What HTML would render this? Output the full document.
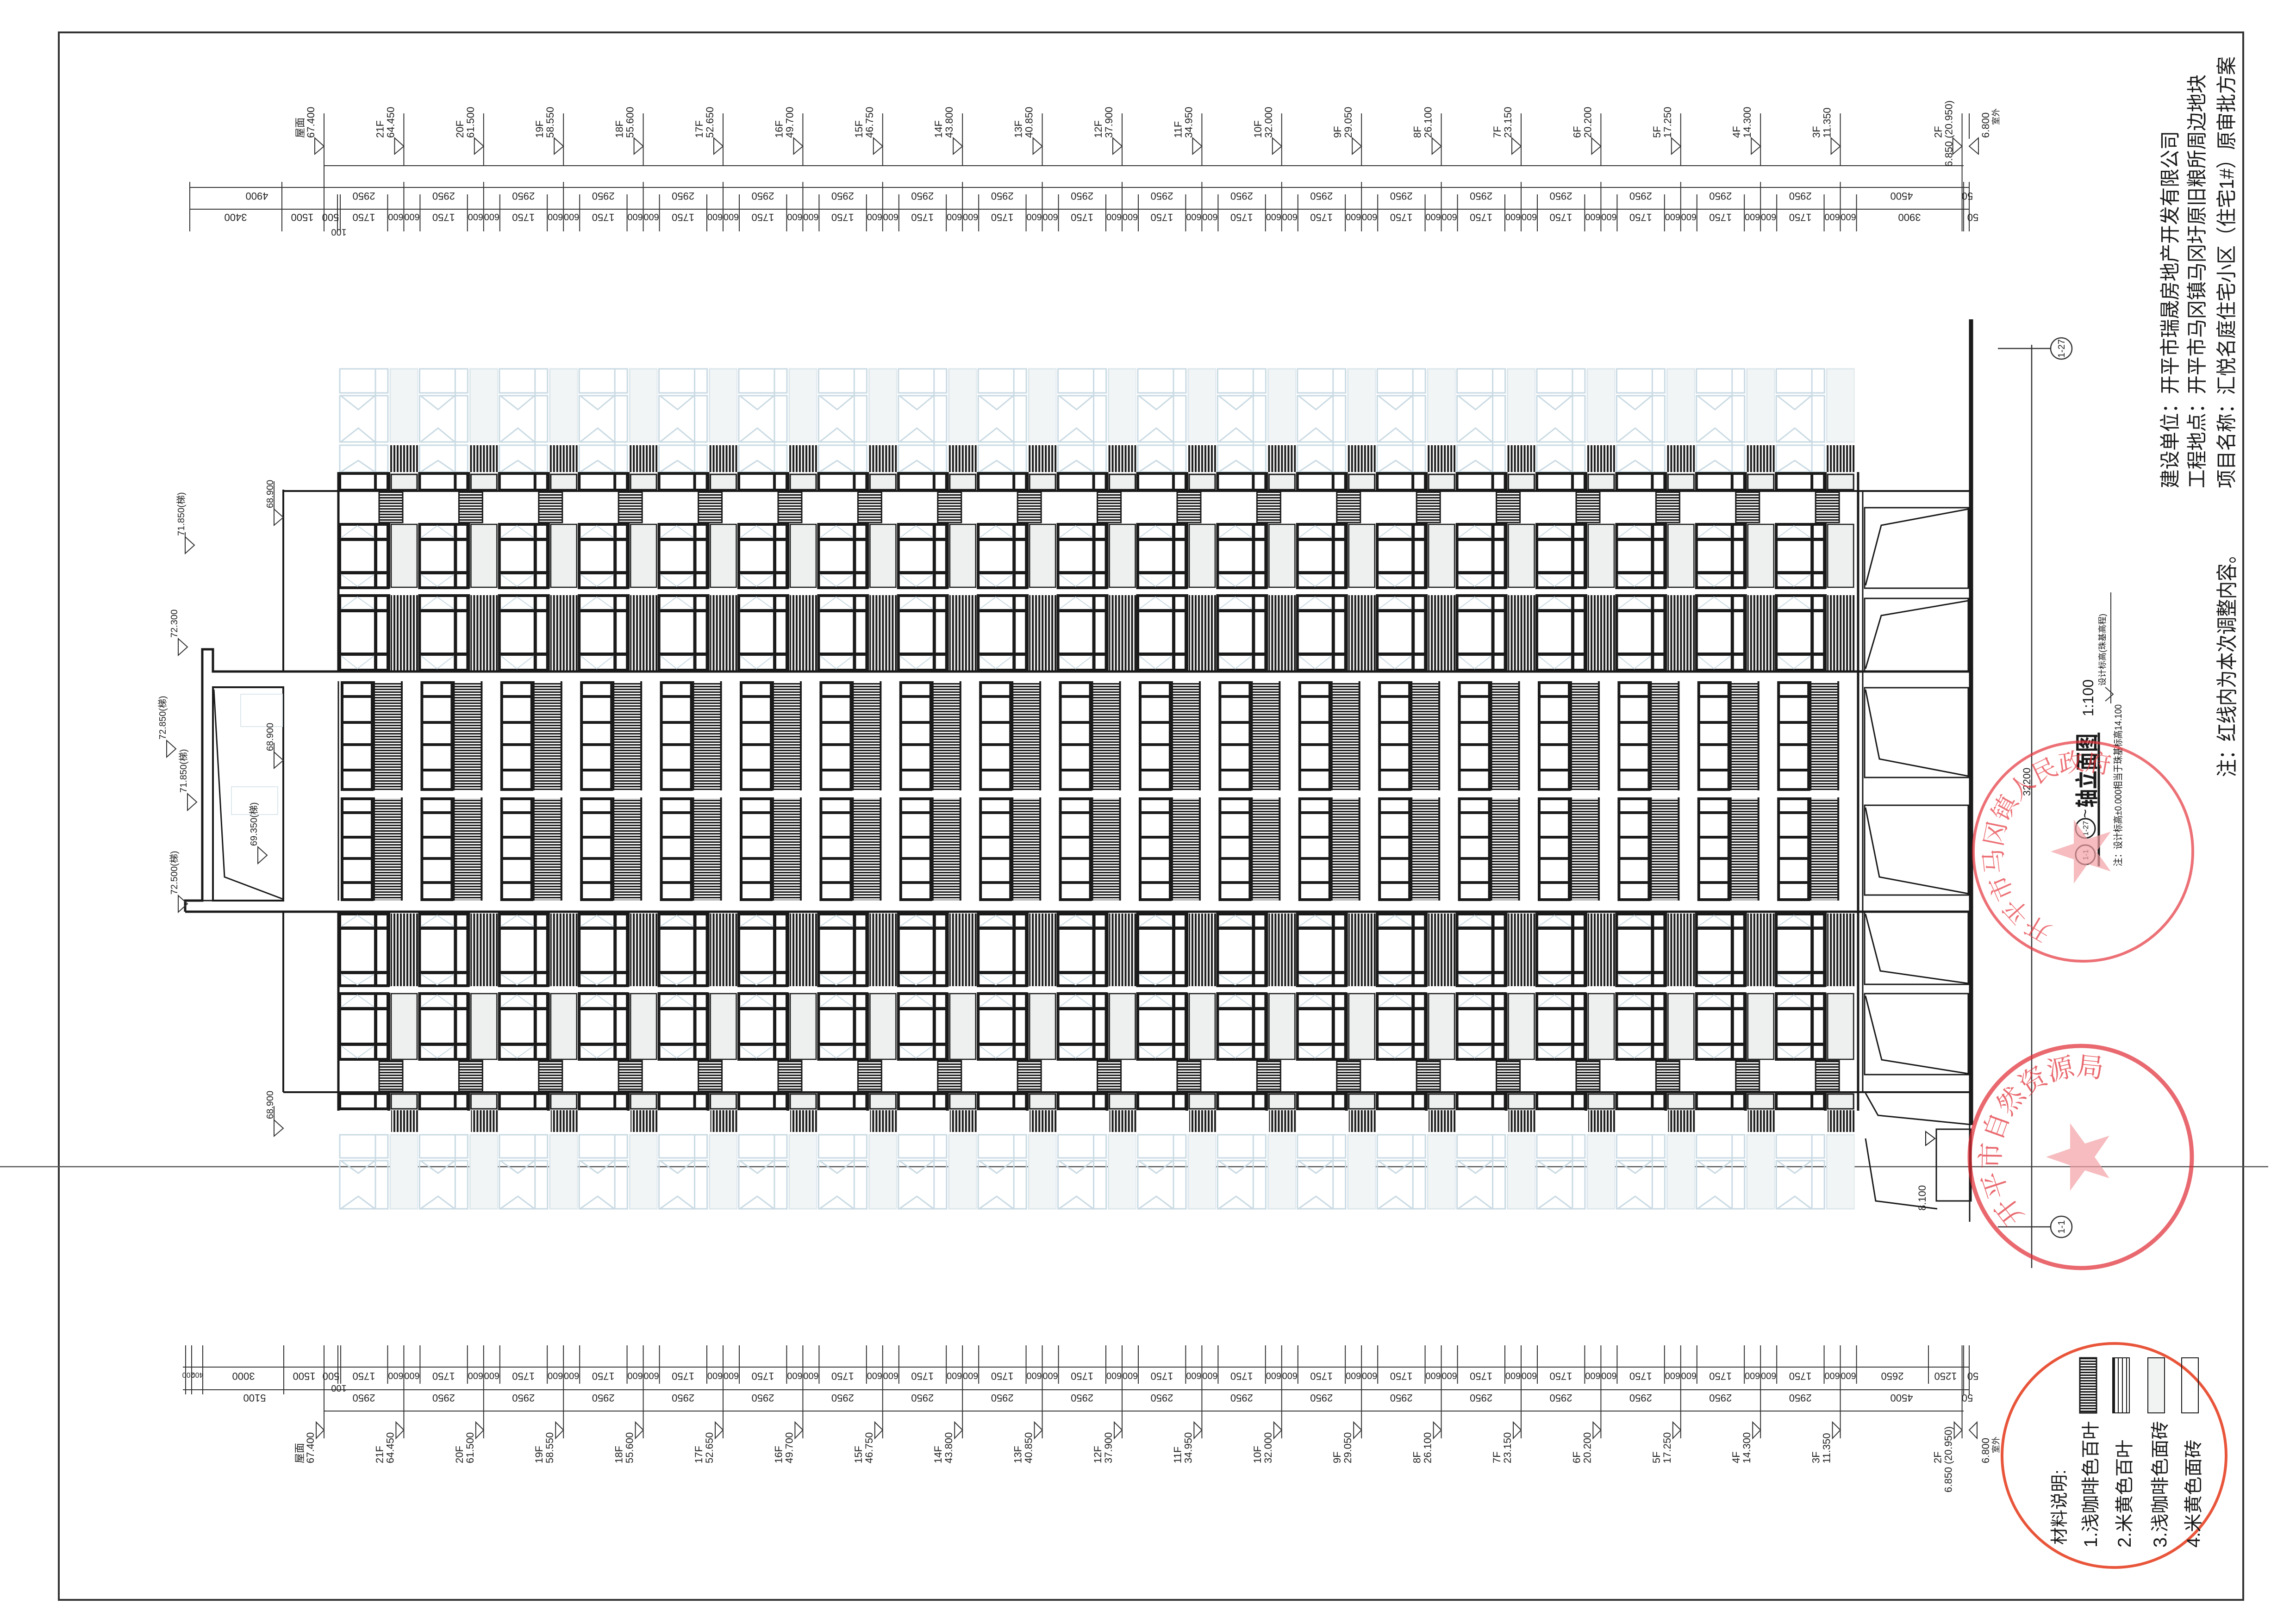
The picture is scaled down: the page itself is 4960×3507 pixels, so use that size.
<!DOCTYPE html>
<html><head><meta charset="utf-8">
<style>
html,body{margin:0;padding:0;background:#fff;}
svg{display:block;}
.t{font-family:"Liberation Sans","Noto Sans CJK SC",sans-serif;fill:#222;}
.c{font-family:"Liberation Sans","Noto Sans CJK SC",sans-serif;fill:#1a1a1a;}
</style></head>
<body>
<svg width="4960" height="3507" viewBox="0 0 4960 3507" xmlns="http://www.w3.org/2000/svg">
<defs>
<pattern id="vs" x="0" y="0" width="7" height="10" patternUnits="userSpaceOnUse"><rect x="0" y="0" width="4" height="10" fill="#1a1a1a"/></pattern>
<pattern id="hs" x="0" y="0" width="10" height="6" patternUnits="userSpaceOnUse"><rect x="0" y="0" width="10" height="3.2" fill="#1a1a1a"/></pattern>
<pattern id="bay" x="731" y="0" width="172.4" height="3507" patternUnits="userSpaceOnUse">
 <g stroke="#c9dae3" stroke-width="3" fill="none">
  <rect x="112" y="797" width="60" height="158" fill="#f2f5f6" stroke="#dde7ec"/>
  <rect x="3" y="797" width="104" height="52"/><rect x="3" y="855" width="104" height="100"/>
  <line x1="80" y1="797" x2="80" y2="1020"/>
  <rect x="3" y="962" width="104" height="58"/>
  <path d="M5 955 L43 925 L79 955 M5 855 L43 885 L79 855 M5 1020 L43 995 L79 1020"/>
 </g>
 <g stroke="#c9dae3" stroke-width="3" fill="none">
  <rect x="112" y="2452" width="60" height="160" fill="#f2f5f6" stroke="#dde7ec"/>
  <rect x="3" y="2452" width="104" height="50"/><rect x="3" y="2508" width="104" height="104"/>
  <line x1="80" y1="2452" x2="80" y2="2612"/>
  <path d="M5 2508 L43 2535 L79 2508 M5 2612 L43 2585 L79 2612"/>
 </g>
 <rect x="112" y="962" width="60" height="58" fill="url(#vs)"/>
 <rect x="3" y="1023" width="104" height="36" fill="none" stroke="#1a1a1a" stroke-width="6"/>
 <rect x="77" y="1023" width="6" height="36" fill="#1a1a1a"/>
 <rect x="114" y="1025" width="56" height="33" fill="#eef0f0" stroke="#1a1a1a" stroke-width="3"/>
 <rect x="106" y="1020" width="6" height="42" fill="#1a1a1a"/>
 <rect x="88" y="1063" width="51" height="66" fill="url(#hs)" stroke="#1a1a1a" stroke-width="3"/>
 <rect x="3" y="1133" width="104" height="137" fill="none" stroke="#1a1a1a" stroke-width="6"/>
 <rect x="77" y="1133" width="7" height="137" fill="#1a1a1a"/>
 <rect x="3" y="1162" width="104" height="7" fill="#1a1a1a"/>
 <rect x="3" y="1234" width="104" height="7" fill="#1a1a1a"/>
 <path d="M6 1162 L41 1136 L77 1162 M6 1241 L41 1267 L77 1241" stroke="#c9dae3" stroke-width="2" fill="none"/>
 <rect x="106" y="1130" width="6" height="142" fill="#1a1a1a"/>
 <rect x="114" y="1133" width="56" height="136" fill="#eef0f0" stroke="#1a1a1a" stroke-width="2.5"/>
 <rect x="3" y="1287" width="104" height="161" fill="none" stroke="#1a1a1a" stroke-width="6"/>
 <rect x="77" y="1287" width="7" height="161" fill="#1a1a1a"/>
 <rect x="3" y="1316" width="104" height="7" fill="#1a1a1a"/>
 <rect x="3" y="1410" width="104" height="7" fill="#1a1a1a"/>
 <path d="M6 1316 L41 1290 L77 1316 M6 1417 L41 1445 L77 1417" stroke="#c9dae3" stroke-width="2" fill="none"/>
 <rect x="106" y="1284" width="6" height="166" fill="#1a1a1a"/>
 <rect x="113" y="1286" width="59" height="163" fill="url(#vs)"/>
 <rect x="8" y="1475" width="65" height="231" fill="none" stroke="#1a1a1a" stroke-width="6"/>
 <rect x="8" y="1502" width="65" height="6" fill="#1a1a1a"/><rect x="8" y="1558" width="65" height="6" fill="#1a1a1a"/>
 <rect x="8" y="1606" width="65" height="6" fill="#1a1a1a"/><rect x="8" y="1661" width="65" height="6" fill="#1a1a1a"/>
 <rect x="78" y="1474" width="58" height="233" fill="url(#hs)"/>
 <rect x="75" y="1472" width="4" height="236" fill="#1a1a1a"/><rect x="135" y="1472" width="4" height="236" fill="#1a1a1a"/>
 <rect x="8" y="1726" width="65" height="218" fill="none" stroke="#1a1a1a" stroke-width="6"/>
 <rect x="8" y="1753" width="65" height="6" fill="#1a1a1a"/><rect x="8" y="1806" width="65" height="6" fill="#1a1a1a"/>
 <rect x="8" y="1852" width="65" height="6" fill="#1a1a1a"/><rect x="8" y="1904" width="65" height="6" fill="#1a1a1a"/>
 <rect x="78" y="1725" width="58" height="220" fill="url(#hs)"/>
 <rect x="75" y="1723" width="4" height="223" fill="#1a1a1a"/><rect x="135" y="1723" width="4" height="223" fill="#1a1a1a"/>
 <rect x="3" y="1975" width="104" height="155" fill="none" stroke="#1a1a1a" stroke-width="6"/>
 <rect x="77" y="1975" width="7" height="155" fill="#1a1a1a"/>
 <rect x="3" y="2002" width="104" height="7" fill="#1a1a1a"/>
 <rect x="3" y="2098" width="104" height="7" fill="#1a1a1a"/>
 <path d="M6 2002 L41 1978 L77 2002 M6 2105 L41 2128 L77 2105" stroke="#c9dae3" stroke-width="2" fill="none"/>
 <rect x="106" y="1972" width="6" height="160" fill="#1a1a1a"/>
 <rect x="113" y="1974" width="59" height="157" fill="url(#vs)"/>
 <rect x="3" y="2147" width="104" height="142" fill="none" stroke="#1a1a1a" stroke-width="6"/>
 <rect x="77" y="2147" width="7" height="142" fill="#1a1a1a"/>
 <rect x="3" y="2176" width="104" height="7" fill="#1a1a1a"/>
 <rect x="3" y="2253" width="104" height="7" fill="#1a1a1a"/>
 <path d="M6 2176 L41 2150 L77 2176 M6 2260 L41 2286 L77 2260" stroke="#c9dae3" stroke-width="2" fill="none"/>
 <rect x="106" y="2145" width="6" height="146" fill="#1a1a1a"/>
 <rect x="114" y="2147" width="56" height="142" fill="#eef0f0" stroke="#1a1a1a" stroke-width="2.5"/>
 <rect x="88" y="2292" width="51" height="66" fill="url(#hs)" stroke="#1a1a1a" stroke-width="3"/>
 <rect x="3" y="2363" width="104" height="33" fill="none" stroke="#1a1a1a" stroke-width="6"/>
 <rect x="77" y="2363" width="6" height="33" fill="#1a1a1a"/>
 <rect x="114" y="2364" width="56" height="32" fill="#eef0f0" stroke="#1a1a1a" stroke-width="3"/>
 <rect x="106" y="2360" width="6" height="40" fill="#1a1a1a"/>
 <rect x="114" y="2399" width="58" height="47" fill="url(#vs)"/>
</pattern>
</defs>

<rect width="4960" height="3507" fill="#fff"/>
<rect x="127" y="70" width="4719" height="3387" fill="none" stroke="#333" stroke-width="4"/>
<line x1="0" y1="2521" x2="4900" y2="2521" stroke="#555" stroke-width="2.5"/>

<rect x="731" y="780" width="3275.6" height="1850" fill="url(#bay)"/>
<g stroke="#1a1a1a" fill="none">
 <line x1="612" y1="1061" x2="4260" y2="1061" stroke-width="4"/>
 <line x1="460" y1="1451" x2="4260" y2="1451" stroke-width="5"/>
 <line x1="400" y1="1970" x2="4260" y2="1970" stroke-width="5"/>
 <line x1="612" y1="2360" x2="4260" y2="2360" stroke-width="4"/>
 <line x1="612" y1="1058" x2="612" y2="1451" stroke-width="4"/>
 <line x1="612" y1="1970" x2="612" y2="2360" stroke-width="4"/>
 <line x1="731" y1="1020" x2="731" y2="1451" stroke-width="5"/>
 <line x1="731" y1="1970" x2="731" y2="2400" stroke-width="5"/>
 <line x1="731" y1="1472" x2="731" y2="1946" stroke-width="3"/>
 <path d="M612 1451 H460 V1403 H437 V1946 H400 V1970" stroke-width="5"/>
 <rect x="460" y="1485" width="152" height="461" stroke-width="4"/>
 <path d="M462 1490 L485 1895 L612 1943" stroke-width="3"/>
 <line x1="437" y1="1946" x2="612" y2="1946" stroke-width="3"/>
</g>
<g stroke="#dde7ec" stroke-width="2" fill="none">
 <rect x="520" y="1500" width="90" height="70"/><rect x="500" y="1700" width="100" height="60"/>
</g>

<g stroke="#1a1a1a" fill="none" stroke-width="3">
 <line x1="4014" y1="1020" x2="4014" y2="2400" stroke-width="5"/>
 <line x1="4024" y1="1061" x2="4024" y2="2360" stroke-width="3"/>
 <line x1="4258" y1="690" x2="4258" y2="2431" stroke-width="9"/>
 <rect x="4028" y="1097" width="224" height="174"/>
 <rect x="4028" y="1293" width="224" height="158"/>
 <rect x="4028" y="1486" width="224" height="194"/>
 <rect x="4028" y="1740" width="224" height="194"/>
 <rect x="4028" y="1970" width="224" height="157"/>
 <rect x="4028" y="2147" width="224" height="175"/>
 <path d="M4030 1265 L4064 1135 L4252 1100"/>
 <path d="M4030 1445 L4064 1330 L4252 1298"/>
 <path d="M4030 1490 L4060 1640 L4252 1677"/>
 <path d="M4030 1745 L4060 1895 L4252 1931"/>
 <path d="M4030 1975 L4062 2098 L4252 2125"/>
 <path d="M4030 2152 L4065 2290 L4252 2320"/>
 <path d="M4030 2362 L4057 2410 L4258 2430"/>
 <rect x="4183" y="2440" width="75" height="155"/>
 <path d="M4030 2460 L4052 2595 L4185 2612"/>
 <path d="M4160 2445 L4180 2460 L4160 2475 Z" stroke-width="2"/>
 <line x1="4255" y1="2430" x2="4255" y2="2640" stroke-width="3"/>
</g>
<text class="t" font-size="22" transform="translate(4160,2616) rotate(-90)">8.100</text>

<g stroke="#333" fill="none" stroke-width="2.5">
 <line x1="4389" y1="745" x2="4389" y2="2740"/>
 <line x1="4316" y1="753" x2="4430" y2="753"/>
 <line x1="4316" y1="2651" x2="4430" y2="2651"/>
 <circle cx="4453" cy="753" r="23" fill="#fff"/>
 <circle cx="4453" cy="2651" r="23" fill="#fff"/>
</g>
<text class="t" font-size="20" text-anchor="middle" transform="translate(4460,753) rotate(-90)">1-27</text>
<text class="t" font-size="20" text-anchor="middle" transform="translate(4460,2651) rotate(-90)">1-1</text>
<text class="t" font-size="22" transform="translate(4386,1720) rotate(-90)">32200</text>

<g stroke="#333" fill="none" stroke-width="2">
 <path d="M592 1100 L612 1118 L592 1135 Z M592 1100 V1040"/>
 <path d="M592 1625 L612 1643 L592 1660 Z M592 1625 V1605"/>
 <path d="M592 2420 L612 2438 L592 2455 Z M592 2420 V2390"/>
 <path d="M400 1160 L420 1178 L400 1196 Z M400 1160 V1150"/>
 <path d="M385 1380 L405 1398 L385 1416 Z"/>
 <path d="M360 1600 L380 1618 L360 1636 Z"/>
 <path d="M405 1715 L425 1733 L405 1751 Z"/>
 <path d="M385 1935 L405 1953 L385 1971 Z"/>
 <path d="M557 1830 L577 1848 L557 1866 Z"/>
</g>
<g class="t" font-size="20">
 <text transform="translate(590,1098) rotate(-90)">68.900</text>
 <text transform="translate(590,1623) rotate(-90)">68.900</text>
 <text transform="translate(590,2418) rotate(-90)">68.900</text>
 <text transform="translate(398,1158) rotate(-90)">71.850(梯)</text>
 <text transform="translate(383,1378) rotate(-90)">72.300</text>
 <text transform="translate(358,1598) rotate(-90)">72.850(梯)</text>
 <text transform="translate(403,1713) rotate(-90)">71.850(梯)</text>
 <text transform="translate(383,1933) rotate(-90)">72.500(梯)</text>
 <text transform="translate(555,1828) rotate(-90)">69.350(梯)</text>
</g>

<g stroke="#333" stroke-width="2" fill="none">
 <path d="M410 393V500 M609 393V500 M729 420V500 M735 420V500 M837.4 420V500 M907.4 420V500 M1009.8 420V500 M1079.8 420V500 M1182.2 420V500 M1252.2 420V500 M1354.6 420V500 M1424.6 420V500 M1527 420V500 M1597 420V500 M1699.4 420V500 M1769.4 420V500 M1871.8 420V500 M1941.8 420V500 M2044.2 420V500 M2114.2 420V500 M2216.6 420V500 M2286.6 420V500 M2389 420V500 M2459 420V500 M2561.4 420V500 M2631.4 420V500 M2733.8 420V500 M2803.8 420V500 M2906.2 420V500 M2976.2 420V500 M3078.6 420V500 M3148.6 420V500 M3251 420V500 M3321 420V500 M3423.4 420V500 M3493.4 420V500 M3595.8 420V500 M3665.8 420V500 M3768.2 420V500 M3838.2 420V500 M3940.6 420V500 M4010.6 420V500 M4242 393V500 M4254 393V500"/>
 <path d="M700 245V500 M872.4 245V358 M1044.8 245V358 M1217.2 245V358 M1389.6 245V358 M1562 245V358 M1734.4 245V358 M1906.8 245V358 M2079.2 245V358 M2251.6 245V358 M2424 245V358 M2596.4 245V358 M2768.8 245V358 M2941.2 245V358 M3113.6 245V358 M3286 245V358 M3458.4 245V358 M3630.8 245V358 M3803.2 245V358 M3975.6 245V358 M4238.6 245V500 M4254 245V300"/>
 <path d="M872.4 393V500 M1044.8 393V500 M1217.2 393V500 M1389.6 393V500 M1562 393V500 M1734.4 393V500 M1906.8 393V500 M2079.2 393V500 M2251.6 393V500 M2424 393V500 M2596.4 393V500 M2768.8 393V500 M2941.2 393V500 M3113.6 393V500 M3286 393V500 M3458.4 393V500 M3630.8 393V500 M3803.2 393V500 M3975.6 393V500"/>
 <path d="M700 358H4242 M410 405H4254 M410 452H4254"/>
 <path d="M680 298L700 316L680 333Z M852.4 298L872.4 316L852.4 333Z M1024.8 298L1044.8 316L1024.8 333Z M1197.2 298L1217.2 316L1197.2 333Z M1369.6 298L1389.6 316L1369.6 333Z M1542 298L1562 316L1542 333Z M1714.4 298L1734.4 316L1714.4 333Z M1886.8 298L1906.8 316L1886.8 333Z M2059.2 298L2079.2 316L2059.2 333Z M2231.6 298L2251.6 316L2231.6 333Z M2404 298L2424 316L2404 333Z M2576.4 298L2596.4 316L2576.4 333Z M2748.8 298L2768.8 316L2748.8 333Z M2921.2 298L2941.2 316L2921.2 333Z M3093.6 298L3113.6 316L3093.6 333Z M3266 298L3286 316L3266 333Z M3438.4 298L3458.4 316L3438.4 333Z M3610.8 298L3630.8 316L3610.8 333Z M3783.2 298L3803.2 316L3783.2 333Z M3955.6 298L3975.6 316L3955.6 333Z M4218.6 298L4238.6 316L4218.6 333Z M4274 298L4254 316L4274 333Z"/>
</g>
<g class="t" font-size="22" text-anchor="middle" transform="rotate(180)">
 <text y="-416"><tspan x="-555">4900</tspan><tspan x="-786">2950</tspan><tspan x="-958.4">2950</tspan><tspan x="-1130.8">2950</tspan><tspan x="-1303.2">2950</tspan><tspan x="-1475.6">2950</tspan><tspan x="-1648">2950</tspan><tspan x="-1820.4">2950</tspan><tspan x="-1992.8">2950</tspan><tspan x="-2165.2">2950</tspan><tspan x="-2337.6">2950</tspan><tspan x="-2510">2950</tspan><tspan x="-2682.4">2950</tspan><tspan x="-2854.8">2950</tspan><tspan x="-3027.2">2950</tspan><tspan x="-3199.6">2950</tspan><tspan x="-3372">2950</tspan><tspan x="-3544.4">2950</tspan><tspan x="-3716.8">2950</tspan><tspan x="-3889.2">2950</tspan><tspan x="-4108">4500</tspan><tspan x="-4250">50</tspan></text>
 <text y="-462"><tspan x="-509">3400</tspan><tspan x="-653">1500</tspan><tspan x="-714">500</tspan><tspan x="-786">1750</tspan><tspan x="-958.4">1750</tspan><tspan x="-1130.8">1750</tspan><tspan x="-1303.2">1750</tspan><tspan x="-1475.6">1750</tspan><tspan x="-1648">1750</tspan><tspan x="-1820.4">1750</tspan><tspan x="-1992.8">1750</tspan><tspan x="-2165.2">1750</tspan><tspan x="-2337.6">1750</tspan><tspan x="-2510">1750</tspan><tspan x="-2682.4">1750</tspan><tspan x="-2854.8">1750</tspan><tspan x="-3027.2">1750</tspan><tspan x="-3199.6">1750</tspan><tspan x="-3372">1750</tspan><tspan x="-3544.4">1750</tspan><tspan x="-3716.8">1750</tspan><tspan x="-3889.2">1750</tspan><tspan x="-4125">3900</tspan><tspan x="-4262">50</tspan></text>
 <text y="-462" font-size="20"><tspan x="-854.9">600</tspan><tspan x="-889.9">600</tspan><tspan x="-1027.3">600</tspan><tspan x="-1062.3">600</tspan><tspan x="-1199.7">600</tspan><tspan x="-1234.7">600</tspan><tspan x="-1372.1">600</tspan><tspan x="-1407.1">600</tspan><tspan x="-1544.5">600</tspan><tspan x="-1579.5">600</tspan><tspan x="-1716.9">600</tspan><tspan x="-1751.9">600</tspan><tspan x="-1889.3">600</tspan><tspan x="-1924.3">600</tspan><tspan x="-2061.7">600</tspan><tspan x="-2096.7">600</tspan><tspan x="-2234.1">600</tspan><tspan x="-2269.1">600</tspan><tspan x="-2406.5">600</tspan><tspan x="-2441.5">600</tspan><tspan x="-2578.9">600</tspan><tspan x="-2613.9">600</tspan><tspan x="-2751.3">600</tspan><tspan x="-2786.3">600</tspan><tspan x="-2923.7">600</tspan><tspan x="-2958.7">600</tspan><tspan x="-3096.1">600</tspan><tspan x="-3131.1">600</tspan><tspan x="-3268.5">600</tspan><tspan x="-3303.5">600</tspan><tspan x="-3440.9">600</tspan><tspan x="-3475.9">600</tspan><tspan x="-3613.3">600</tspan><tspan x="-3648.3">600</tspan><tspan x="-3785.7">600</tspan><tspan x="-3820.7">600</tspan><tspan x="-3958.1">600</tspan><tspan x="-3993.1">600</tspan></text>
 <text y="-495" x="-732" font-size="20">100</text>
</g>
<g class="t" font-size="22">
 <text transform="translate(679,298) rotate(-90)">67.400</text><text transform="translate(656,298) rotate(-90)">屋面</text>
 <text transform="translate(851.4,298) rotate(-90)">64.450</text><text transform="translate(828.4,298) rotate(-90)">21F</text>
 <text transform="translate(1023.8,298) rotate(-90)">61.500</text><text transform="translate(1000.8,298) rotate(-90)">20F</text>
 <text transform="translate(1196.2,298) rotate(-90)">58.550</text><text transform="translate(1173.2,298) rotate(-90)">19F</text>
 <text transform="translate(1368.6,298) rotate(-90)">55.600</text><text transform="translate(1345.6,298) rotate(-90)">18F</text>
 <text transform="translate(1541,298) rotate(-90)">52.650</text><text transform="translate(1518,298) rotate(-90)">17F</text>
 <text transform="translate(1713.4,298) rotate(-90)">49.700</text><text transform="translate(1690.4,298) rotate(-90)">16F</text>
 <text transform="translate(1885.8,298) rotate(-90)">46.750</text><text transform="translate(1862.8,298) rotate(-90)">15F</text>
 <text transform="translate(2058.2,298) rotate(-90)">43.800</text><text transform="translate(2035.2,298) rotate(-90)">14F</text>
 <text transform="translate(2230.6,298) rotate(-90)">40.850</text><text transform="translate(2207.6,298) rotate(-90)">13F</text>
 <text transform="translate(2403,298) rotate(-90)">37.900</text><text transform="translate(2380,298) rotate(-90)">12F</text>
 <text transform="translate(2575.4,298) rotate(-90)">34.950</text><text transform="translate(2552.4,298) rotate(-90)">11F</text>
 <text transform="translate(2747.8,298) rotate(-90)">32.000</text><text transform="translate(2724.8,298) rotate(-90)">10F</text>
 <text transform="translate(2920.2,298) rotate(-90)">29.050</text><text transform="translate(2897.2,298) rotate(-90)">9F</text>
 <text transform="translate(3092.6,298) rotate(-90)">26.100</text><text transform="translate(3069.6,298) rotate(-90)">8F</text>
 <text transform="translate(3265,298) rotate(-90)">23.150</text><text transform="translate(3242,298) rotate(-90)">7F</text>
 <text transform="translate(3437.4,298) rotate(-90)">20.200</text><text transform="translate(3414.4,298) rotate(-90)">6F</text>
 <text transform="translate(3609.8,298) rotate(-90)">17.250</text><text transform="translate(3586.8,298) rotate(-90)">5F</text>
 <text transform="translate(3782.2,298) rotate(-90)">14.300</text><text transform="translate(3759.2,298) rotate(-90)">4F</text>
 <text transform="translate(3954.6,298) rotate(-90)">11.350</text><text transform="translate(3931.6,298) rotate(-90)">3F</text>
 <text transform="translate(4217.6,360) rotate(-90)">6.850 (20.950)</text><text transform="translate(4194.6,298) rotate(-90)">2F</text>
 <text transform="translate(4297,298) rotate(-90)">6.800</text><text transform="translate(4318,270) rotate(-90)" font-size="18">室外</text>
</g>

<g stroke="#333" stroke-width="2" fill="none">
 <path d="M401 2907V3013 M414 2907V3013 M438 2907V3013 M613 2907V3013 M730 2907V2990 M736 2907V2990 M837.4 2907V2990 M907.4 2907V2990 M1009.8 2907V2990 M1079.8 2907V2990 M1182.2 2907V2990 M1252.2 2907V2990 M1354.6 2907V2990 M1424.6 2907V2990 M1527 2907V2990 M1597 2907V2990 M1699.4 2907V2990 M1769.4 2907V2990 M1871.8 2907V2990 M1941.8 2907V2990 M2044.2 2907V2990 M2114.2 2907V2990 M2216.6 2907V2990 M2286.6 2907V2990 M2389 2907V2990 M2459 2907V2990 M2561.4 2907V2990 M2631.4 2907V2990 M2733.8 2907V2990 M2803.8 2907V2990 M2906.2 2907V2990 M2976.2 2907V2990 M3078.6 2907V2990 M3148.6 2907V2990 M3251 2907V2990 M3321 2907V2990 M3423.4 2907V2990 M3493.4 2907V2990 M3595.8 2907V2990 M3665.8 2907V2990 M3768.2 2907V2990 M3838.2 2907V2990 M3940.6 2907V2990 M4010.6 2907V2990 M4166 2907V2990 M4242 2907V3013 M4254 2907V3013"/>
 <path d="M700 2907V3108 M872.4 2907V3108 M1044.8 2907V3108 M1217.2 2907V3108 M1389.6 2907V3108 M1562 2907V3108 M1734.4 2907V3108 M1906.8 2907V3108 M2079.2 2907V3108 M2251.6 2907V3108 M2424 2907V3108 M2596.4 2907V3108 M2768.8 2907V3108 M2941.2 2907V3108 M3113.6 2907V3108 M3286 2907V3108 M3458.4 2907V3108 M3630.8 2907V3108 M3803.2 2907V3108 M3975.6 2907V3108 M4238.6 2907V3108"/>
 <path d="M700 3049H4242 M395 2954H4254 M395 3003H4254"/>
 <path d="M683 3073L700 3090L683 3108Z M855.4 3073L872.4 3090L855.4 3108Z M1027.8 3073L1044.8 3090L1027.8 3108Z M1200.2 3073L1217.2 3090L1200.2 3108Z M1372.6 3073L1389.6 3090L1372.6 3108Z M1545 3073L1562 3090L1545 3108Z M1717.4 3073L1734.4 3090L1717.4 3108Z M1889.8 3073L1906.8 3090L1889.8 3108Z M2062.2 3073L2079.2 3090L2062.2 3108Z M2234.6 3073L2251.6 3090L2234.6 3108Z M2407 3073L2424 3090L2407 3108Z M2579.4 3073L2596.4 3090L2579.4 3108Z M2751.8 3073L2768.8 3090L2751.8 3108Z M2924.2 3073L2941.2 3090L2924.2 3108Z M3096.6 3073L3113.6 3090L3096.6 3108Z M3269 3073L3286 3090L3269 3108Z M3441.4 3073L3458.4 3090L3441.4 3108Z M3613.8 3073L3630.8 3090L3613.8 3108Z M3786.2 3073L3803.2 3090L3786.2 3108Z M3958.6 3073L3975.6 3090L3958.6 3108Z M4221.6 3073L4238.6 3090L4221.6 3108Z M4271 3073L4254 3090L4271 3108Z"/>
</g>
<g class="t" font-size="22" text-anchor="middle" transform="rotate(180)">
 <text y="-2966"><tspan x="-407" font-size="16">200</tspan><tspan x="-426" font-size="16">400</tspan><tspan x="-526">3000</tspan><tspan x="-657">1500</tspan><tspan x="-715">500</tspan><tspan x="-786">1750</tspan><tspan x="-958.4">1750</tspan><tspan x="-1130.8">1750</tspan><tspan x="-1303.2">1750</tspan><tspan x="-1475.6">1750</tspan><tspan x="-1648">1750</tspan><tspan x="-1820.4">1750</tspan><tspan x="-1992.8">1750</tspan><tspan x="-2165.2">1750</tspan><tspan x="-2337.6">1750</tspan><tspan x="-2510">1750</tspan><tspan x="-2682.4">1750</tspan><tspan x="-2854.8">1750</tspan><tspan x="-3027.2">1750</tspan><tspan x="-3199.6">1750</tspan><tspan x="-3372">1750</tspan><tspan x="-3544.4">1750</tspan><tspan x="-3716.8">1750</tspan><tspan x="-3889.2">1750</tspan><tspan x="-4088">2650</tspan><tspan x="-4203">1250</tspan><tspan x="-4262">50</tspan></text>
 <text y="-2966" font-size="20"><tspan x="-854.9">600</tspan><tspan x="-889.9">600</tspan><tspan x="-1027.3">600</tspan><tspan x="-1062.3">600</tspan><tspan x="-1199.7">600</tspan><tspan x="-1234.7">600</tspan><tspan x="-1372.1">600</tspan><tspan x="-1407.1">600</tspan><tspan x="-1544.5">600</tspan><tspan x="-1579.5">600</tspan><tspan x="-1716.9">600</tspan><tspan x="-1751.9">600</tspan><tspan x="-1889.3">600</tspan><tspan x="-1924.3">600</tspan><tspan x="-2061.7">600</tspan><tspan x="-2096.7">600</tspan><tspan x="-2234.1">600</tspan><tspan x="-2269.1">600</tspan><tspan x="-2406.5">600</tspan><tspan x="-2441.5">600</tspan><tspan x="-2578.9">600</tspan><tspan x="-2613.9">600</tspan><tspan x="-2751.3">600</tspan><tspan x="-2786.3">600</tspan><tspan x="-2923.7">600</tspan><tspan x="-2958.7">600</tspan><tspan x="-3096.1">600</tspan><tspan x="-3131.1">600</tspan><tspan x="-3268.5">600</tspan><tspan x="-3303.5">600</tspan><tspan x="-3440.9">600</tspan><tspan x="-3475.9">600</tspan><tspan x="-3613.3">600</tspan><tspan x="-3648.3">600</tspan><tspan x="-3785.7">600</tspan><tspan x="-3820.7">600</tspan><tspan x="-3958.1">600</tspan><tspan x="-3993.1">600</tspan></text>
 <text y="-3013"><tspan x="-550">5100</tspan><tspan x="-786">2950</tspan><tspan x="-958.4">2950</tspan><tspan x="-1130.8">2950</tspan><tspan x="-1303.2">2950</tspan><tspan x="-1475.6">2950</tspan><tspan x="-1648">2950</tspan><tspan x="-1820.4">2950</tspan><tspan x="-1992.8">2950</tspan><tspan x="-2165.2">2950</tspan><tspan x="-2337.6">2950</tspan><tspan x="-2510">2950</tspan><tspan x="-2682.4">2950</tspan><tspan x="-2854.8">2950</tspan><tspan x="-3027.2">2950</tspan><tspan x="-3199.6">2950</tspan><tspan x="-3372">2950</tspan><tspan x="-3544.4">2950</tspan><tspan x="-3716.8">2950</tspan><tspan x="-3889.2">2950</tspan><tspan x="-4108">4500</tspan><tspan x="-4250">50</tspan></text>
 <text y="-2993" x="-732" font-size="20">100</text>
</g>
<g class="t" font-size="22">
 <text transform="translate(678,3162) rotate(-90)">67.400</text><text transform="translate(655,3162) rotate(-90)">屋面</text>
 <text transform="translate(850.4,3162) rotate(-90)">64.450</text><text transform="translate(827.4,3162) rotate(-90)">21F</text>
 <text transform="translate(1022.8,3162) rotate(-90)">61.500</text><text transform="translate(999.8,3162) rotate(-90)">20F</text>
 <text transform="translate(1195.2,3162) rotate(-90)">58.550</text><text transform="translate(1172.2,3162) rotate(-90)">19F</text>
 <text transform="translate(1367.6,3162) rotate(-90)">55.600</text><text transform="translate(1344.6,3162) rotate(-90)">18F</text>
 <text transform="translate(1540,3162) rotate(-90)">52.650</text><text transform="translate(1517,3162) rotate(-90)">17F</text>
 <text transform="translate(1712.4,3162) rotate(-90)">49.700</text><text transform="translate(1689.4,3162) rotate(-90)">16F</text>
 <text transform="translate(1884.8,3162) rotate(-90)">46.750</text><text transform="translate(1861.8,3162) rotate(-90)">15F</text>
 <text transform="translate(2057.2,3162) rotate(-90)">43.800</text><text transform="translate(2034.2,3162) rotate(-90)">14F</text>
 <text transform="translate(2229.6,3162) rotate(-90)">40.850</text><text transform="translate(2206.6,3162) rotate(-90)">13F</text>
 <text transform="translate(2402,3162) rotate(-90)">37.900</text><text transform="translate(2379,3162) rotate(-90)">12F</text>
 <text transform="translate(2574.4,3162) rotate(-90)">34.950</text><text transform="translate(2551.4,3162) rotate(-90)">11F</text>
 <text transform="translate(2746.8,3162) rotate(-90)">32.000</text><text transform="translate(2723.8,3162) rotate(-90)">10F</text>
 <text transform="translate(2919.2,3162) rotate(-90)">29.050</text><text transform="translate(2896.2,3162) rotate(-90)">9F</text>
 <text transform="translate(3091.6,3162) rotate(-90)">26.100</text><text transform="translate(3068.6,3162) rotate(-90)">8F</text>
 <text transform="translate(3264,3162) rotate(-90)">23.150</text><text transform="translate(3241,3162) rotate(-90)">7F</text>
 <text transform="translate(3436.4,3162) rotate(-90)">20.200</text><text transform="translate(3413.4,3162) rotate(-90)">6F</text>
 <text transform="translate(3608.8,3162) rotate(-90)">17.250</text><text transform="translate(3585.8,3162) rotate(-90)">5F</text>
 <text transform="translate(3781.2,3162) rotate(-90)">14.300</text><text transform="translate(3758.2,3162) rotate(-90)">4F</text>
 <text transform="translate(3953.6,3162) rotate(-90)">11.350</text><text transform="translate(3930.6,3162) rotate(-90)">3F</text>
 <text transform="translate(4216.6,3225) rotate(-90)">6.850 (20.950)</text><text transform="translate(4193.6,3162) rotate(-90)">2F</text>
 <text transform="translate(4297,3162) rotate(-90)">6.800</text><text transform="translate(4318,3140) rotate(-90)" font-size="18">室外</text>
</g>

<g class="c" font-size="44">
 <text transform="translate(4703,1055) rotate(-90)" textLength="772" lengthAdjust="spacingAndGlyphs">建设单位：开平市瑞晟房地产开发有限公司</text>
 <text transform="translate(4761,1055) rotate(-90)" textLength="894" lengthAdjust="spacingAndGlyphs">工程地点：开平市马冈镇马冈圩原旧粮所周边地块</text>
 <text transform="translate(4825,1055) rotate(-90)" textLength="933" lengthAdjust="spacingAndGlyphs">项目名称：汇悦名庭住宅小区（住宅1#）原审批方案</text>
 <text transform="translate(4827,1679) rotate(-90)" textLength="500" lengthAdjust="spacingAndGlyphs" font-size="46">注：红线内为本次调整内容。</text>
</g>

<g stroke="#1a1a1a" fill="none" stroke-width="3">
 <circle cx="4505" cy="1847" r="21"/>
 <circle cx="4505" cy="1790" r="21"/>
</g>
<line x1="4534" y1="1583" x2="4534" y2="1872" stroke="#1a1a1a" stroke-width="5"/>
<g class="c">
 <text font-size="16" text-anchor="middle" transform="translate(4511,1847) rotate(-90)">1-1</text>
 <text font-size="16" text-anchor="middle" transform="translate(4511,1790) rotate(-90)">1-27</text>
 <text font-size="34" transform="translate(4516,1768) rotate(-90)">~</text>
 <text font-size="50" font-weight="bold" transform="translate(4526,1745) rotate(-90)" textLength="160" lengthAdjust="spacingAndGlyphs">轴立面图</text>
 <text font-size="32" transform="translate(4522,1548) rotate(-90)">1:100</text>
 <text font-size="21" transform="translate(4583,1872) rotate(-90)" textLength="350" lengthAdjust="spacingAndGlyphs">注：设计标高±0.000相当于珠基标高14.100</text>
 <text font-size="18" transform="translate(4548,1482) rotate(-90)">设计标高(珠基高程)</text>
</g>
<path d="M4560 1520 V1280 M4548 1485 L4565 1500 L4548 1515" stroke="#333" stroke-width="2" fill="none"/>

<!-- stamps -->
<g opacity="0.7">
 <path id="arc1" d="M4500 2015 A175 175 0 1 1 4501 2015" fill="none"/>
 <circle cx="4500" cy="1840" r="237" fill="none" stroke="#e4343c" stroke-width="6"/>
 <polygon points="4500,1770 4517,1820 4569,1820 4527,1850 4543,1900 4500,1869 4457,1900 4473,1850 4431,1820 4483,1820" fill="#f3a0a4" transform="rotate(-90 4500 1840)"/>
 <text font-family="'Noto Serif CJK SC','Noto Sans CJK SC',serif" font-size="54" fill="#e4343c"><textPath href="#arc1" startOffset="6%">开平市马冈镇人民政府</textPath></text>
 <path id="arc2" d="M4495 2675 A175 175 0 1 1 4496 2675" fill="none"/>
 <circle cx="4495" cy="2500" r="240" fill="none" stroke="#e02a33" stroke-width="9"/>
 <polygon points="4495,2425 4513,2477 4568,2477 4524,2509 4541,2562 4495,2530 4449,2562 4466,2509 4422,2477 4477,2477" fill="#f3a0a4" transform="rotate(-90 4495 2500)"/>
 <text font-family="'Noto Serif CJK SC','Noto Sans CJK SC',serif" font-size="58" fill="#e02a33"><textPath href="#arc2" startOffset="12%">开平市自然资源局</textPath></text>
</g>

<!-- legend -->
<circle cx="4567" cy="3145" r="242" fill="none" stroke="#e8553a" stroke-width="6"/>
<rect x="4493" y="2934" width="36" height="119" fill="url(#hs)" stroke="#1a1a1a" stroke-width="3"/>
<g stroke="#1a1a1a" stroke-width="2" fill="none">
 <rect x="4564" y="2934" width="36" height="119"/>
 <path d="M4568 2934V3053 M4576 2934V3053 M4585 2934V3053 M4594 2934V3053"/>
 <rect x="4640" y="2934" width="36" height="119" fill="#f1f3f3"/>
 <rect x="4713" y="2934" width="36" height="119"/>
</g>
<rect x="4564" y="2934" width="5" height="119" fill="#1a1a1a"/>
<g class="c" font-size="40">
 <text font-size="38" transform="translate(4462,3338) rotate(-90)">材料说明:</text>
 <text transform="translate(4530,3344) rotate(-90)">1.浅咖啡色百叶</text>
 <text transform="translate(4603,3344) rotate(-90)">2.米黄色百叶</text>
 <text transform="translate(4680,3344) rotate(-90)">3.浅咖啡色面砖</text>
 <text transform="translate(4752,3344) rotate(-90)">4.米黄色面砖</text>
</g>
</svg>
</body></html>
